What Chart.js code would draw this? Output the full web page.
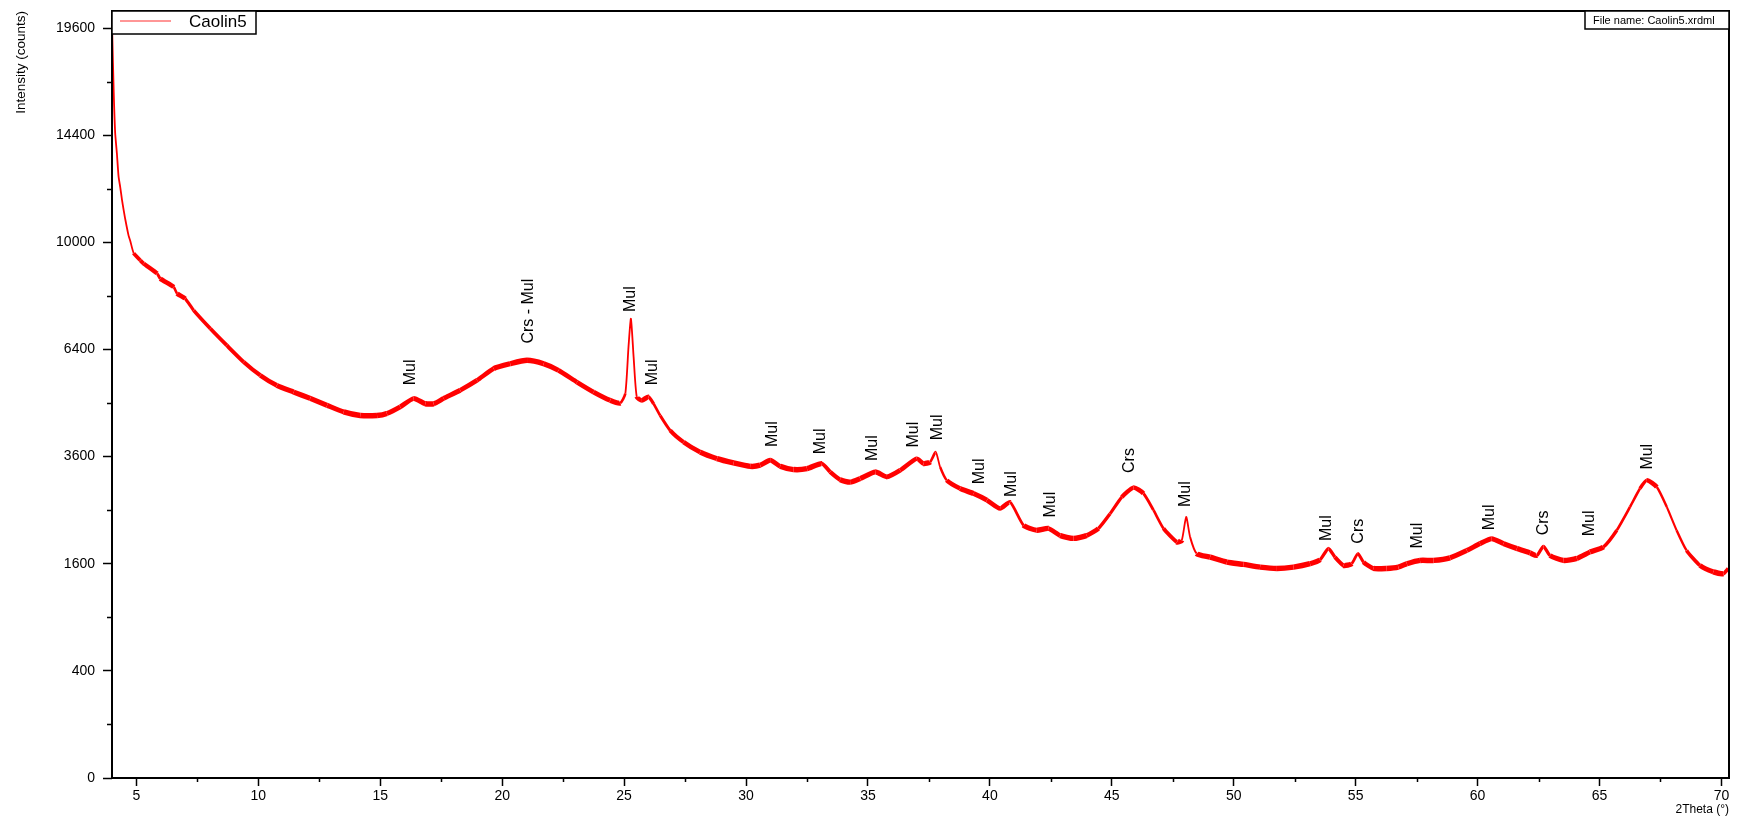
<!DOCTYPE html>
<html>
<head>
<meta charset="utf-8">
<script src="https://cdn.jsdelivr.net/npm/chart.js@4.4.1/dist/chart.umd.min.js"></script>
<style>
  html, body { margin: 0; padding: 0; background: #fff; }
  #chart { display: block; }
</style>
</head>
<body>
<canvas id="chart" width="1739" height="821"></canvas>
<script>
// *** data ***
const SAMPLE = "Caolin5";
const FILE_NAME = "File name: Caolin5.xrdml";

const TWO_THETA = [
    4.01, 4.07, 4.13, 4.20, 4.27, 4.34, 4.41, 4.48, 4.55, 4.68, 4.75, 4.89,
    5.16, 5.30, 5.85, 5.98, 6.53, 6.67, 7.00, 7.35, 8.03, 8.71, 9.40, 10.08,
    10.76, 11.45, 12.13, 12.82, 13.50, 14.18, 14.87, 15.27, 15.82, 16.37, 16.85, 17.19,
    17.60, 18.28, 18.97, 19.65, 20.33, 21.02, 21.70, 22.31, 23.07, 23.75, 24.43, 24.84,
    25.05, 25.18, 25.28, 25.39, 25.52, 25.73, 26.00, 26.21, 26.48, 26.89, 27.44, 28.12,
    28.81, 29.49, 30.17, 30.58, 30.99, 31.40, 31.95, 32.50, 33.11, 33.45, 33.86, 34.27,
    34.68, 35.30, 35.78, 36.32, 37.00, 37.28, 37.55, 37.78, 37.96, 38.23, 38.78, 39.33,
    39.88, 40.42, 40.83, 41.38, 41.92, 42.40, 42.88, 43.43, 43.97, 44.45, 44.93, 45.41,
    45.89, 46.30, 46.71, 47.12, 47.67, 47.87, 48.05, 48.21, 48.48, 49.03, 49.72, 50.40,
    51.08, 51.77, 52.45, 53.13, 53.54, 53.88, 54.15, 54.50, 54.84, 55.09, 55.32, 55.73,
    56.27, 56.75, 57.10, 57.64, 58.19, 58.87, 59.56, 60.10, 60.58, 61.06, 61.61, 62.15,
    62.43, 62.70, 62.97, 63.52, 64.07, 64.61, 65.16, 65.71, 66.25, 66.66, 66.94, 67.35,
    67.76, 68.16, 68.57, 69.12, 69.67, 70.08, 70.28
];
const COUNTS = [
    19300, 16400, 14500, 13600, 12600, 12150, 11650, 11230, 10850, 10250, 10050, 9600,
    9340, 9220, 8870, 8690, 8400, 8180, 8010, 7620, 7040, 6520, 6030, 5650,
    5370, 5190, 5020, 4840, 4670, 4580, 4580, 4630, 4800, 5020, 4880, 4880,
    5020, 5240, 5510, 5840, 5980, 6080, 5980, 5790, 5460, 5190, 4970, 4900,
    5150, 6470, 7350, 6180, 5060, 4970, 5060, 4880, 4580, 4210, 3930, 3700,
    3555, 3460, 3385, 3410, 3520, 3385, 3315, 3335, 3445, 3265, 3100, 3050,
    3125, 3265, 3160, 3300, 3555, 3445, 3480, 3700, 3370, 3090, 2920, 2820,
    2690, 2530, 2650, 2225, 2140, 2170, 2050, 2000, 2050, 2170, 2435, 2750,
    2940, 2820, 2500, 2170, 1940, 1970, 2375, 2025, 1755, 1700, 1625, 1590,
    1550, 1530, 1550, 1600, 1660, 1835, 1700, 1575, 1600, 1755, 1625, 1530,
    1530, 1550, 1600, 1650, 1650, 1690, 1805, 1915, 1995, 1915, 1835, 1765,
    1725, 1870, 1725, 1650, 1680, 1780, 1860, 2140, 2560, 2920, 3090, 2950,
    2560, 2140, 1805, 1575, 1480, 1455, 1530
];

// phase markers: position, text, intensity where the text starts
const PEAK_POS = [16.23, 21.08, 25.28, 26.18, 31.10, 33.04, 35.19, 36.87, 37.87, 39.57,
    40.90, 42.50, 45.71, 48.03, 53.81, 55.11, 57.53, 60.51, 62.70, 64.61, 66.96];
const PEAK_LABEL = ["Mul", "Crs - Mul", "Mul", "Mul", "Mul", "Mul", "Mul", "Mul", "Mul", "Mul",
    "Mul", "Mul", "Crs", "Mul", "Mul", "Crs", "Mul", "Mul", "Crs", "Mul", "Mul"];
const PEAK_BASE = [5373, 6576, 7567, 5373, 3818, 3651, 3502, 3804, 3974, 3006,
    2751, 2363, 3242, 2559, 1957, 1914, 1834, 2138, 2052, 2036, 3314];

const X_TICKS = [5, 10, 15, 20, 25, 30, 35, 40, 45, 50, 55, 60, 65, 70];
const X_MINOR = [7.5, 12.5, 17.5, 22.5, 27.5, 32.5, 37.5, 42.5, 47.5, 52.5, 57.5, 62.5, 67.5];
const Y_TICKS = [0, 400, 1600, 3600, 6400, 10000, 14400, 19600];
const Y_MINOR = [100, 900, 2500, 4900, 8100, 12100, 16900];

// *** square-root intensity axis ***
class SqrtScale extends Chart.LinearScale {
    getPixelForValue(value) {
        const lo = Math.sqrt(Math.max(this.min, 0)), hi = Math.sqrt(this.max);
        return this.getPixelForDecimal((Math.sqrt(Math.max(value, 0)) - lo) / (hi - lo));
    }
    getValueForPixel(pixel) {
        const lo = Math.sqrt(Math.max(this.min, 0)), hi = Math.sqrt(this.max);
        const s = lo + this.getDecimalForPixel(pixel) * (hi - lo);
        return s * s;
    }
}
SqrtScale.id = 'sqrt';
SqrtScale.defaults = Chart.LinearScale.defaults;
Chart.register(SqrtScale);

Chart.defaults.font.family = "'Liberation Sans', Arial, sans-serif";
Chart.defaults.color = '#000';

// *** frame, minor ticks, legend box, file name, peak labels ***
const decorPlugin = {
    id: 'decor',
    afterDraw(chart) {
        const ctx = chart.ctx, a = chart.chartArea;
        const xs = chart.scales.x, ys = chart.scales.y;
        ctx.save();
        // peak labels
        ctx.fillStyle = '#000';
        ctx.font = "16px 'Liberation Sans', Arial, sans-serif";
        ctx.textAlign = 'left';
        ctx.textBaseline = 'middle';
        PEAK_POS.forEach(function (p, i) {
            ctx.save();
            ctx.translate(xs.getPixelForValue(p), ys.getPixelForValue(PEAK_BASE[i]));
            ctx.rotate(-Math.PI / 2);
            ctx.fillText(PEAK_LABEL[i], 0, 0);
            ctx.restore();
        });
        // minor ticks
        ctx.strokeStyle = '#000';
        ctx.lineWidth = 1.5;
        ctx.beginPath();
        X_MINOR.forEach(function (v) {
            const px = Math.round(xs.getPixelForValue(v)) + 0.5;
            ctx.moveTo(px, a.bottom);
            ctx.lineTo(px, a.bottom + 4);
        });
        Y_MINOR.forEach(function (v) {
            const py = Math.round(ys.getPixelForValue(v)) + 0.5;
            ctx.moveTo(a.left - 5, py);
            ctx.lineTo(a.left, py);
        });
        ctx.stroke();
        // frame
        ctx.lineWidth = 2;
        ctx.strokeRect(a.left, a.top, a.right - a.left, a.bottom - a.top);
        // legend box
        ctx.fillStyle = '#fff';
        ctx.fillRect(a.left, a.top, 144, 23);
        ctx.lineWidth = 1.5;
        ctx.strokeRect(a.left, a.top, 144, 23);
        ctx.strokeStyle = 'rgba(255,0,0,0.55)';
        ctx.lineWidth = 1.5;
        ctx.beginPath();
        ctx.moveTo(a.left + 8, a.top + 10);
        ctx.lineTo(a.left + 59, a.top + 10);
        ctx.stroke();
        ctx.fillStyle = '#000';
        ctx.font = "17px 'Liberation Sans', Arial, sans-serif";
        ctx.textBaseline = 'middle';
        ctx.fillText(chart.data.datasets[0].label, a.left + 77, a.top + 11);
        // file name box
        ctx.fillStyle = '#fff';
        ctx.fillRect(a.right - 144, a.top, 144, 18);
        ctx.strokeStyle = '#000';
        ctx.lineWidth = 1.5;
        ctx.strokeRect(a.right - 144, a.top, 144, 18);
        ctx.fillStyle = '#000';
        ctx.font = "11px 'Liberation Sans', Arial, sans-serif";
        ctx.fillText(FILE_NAME, a.right - 136, a.top + 9.5);
        ctx.restore();
    }
};

const points = TWO_THETA.map(function (t, i) { return {x: t, y: COUNTS[i]}; });

new Chart(document.getElementById('chart').getContext('2d'), {
    type: 'line',
    data: {
        datasets: [{
            label: SAMPLE,
            data: points,
            borderColor: '#ff0000',
            borderWidth: 5,
            pointRadius: 0,
            tension: 0.2,
            segment: {
                // noisy trace: thick band where flat, thin where steep
                borderWidth: function (c) {
                    const dx = c.p1.x - c.p0.x, dy = c.p1.y - c.p0.y;
                    const cos = Math.abs(dx) / Math.sqrt(dx * dx + dy * dy);
                    return Math.max(1.8, 5.5 * cos);
                }
            }
        }]
    },
    options: {
        responsive: false,
        animation: false,
        layout: { padding: { top: 11, right: 10, left: 0, bottom: 0 } },
        plugins: { legend: { display: false }, tooltip: { enabled: false } },
        scales: {
            x: {
                type: 'linear',
                min: 4.0,
                max: 70.31,
                border: { display: false },
                grid: { drawOnChartArea: false, drawTicks: true, tickLength: 8, tickColor: '#000', tickWidth: 1.5 },
                ticks: { autoSkip: false, maxRotation: 0, padding: 2, font: { size: 14 } },
                afterBuildTicks: function (s) { s.ticks = X_TICKS.map(function (v) { return {value: v}; }); },
                afterFit: function (s) { s.height = 43; s.paddingLeft = 0; s.paddingRight = 0; },
                title: { display: true, text: '2Theta (°)', align: 'end', font: { size: 12 }, padding: { top: 0, bottom: 4 } }
            },
            y: {
                type: 'sqrt',
                min: 0,
                max: 20500,
                border: { display: false },
                grid: { drawOnChartArea: false, drawTicks: true, tickLength: 9, tickColor: '#000', tickWidth: 1.5 },
                ticks: { autoSkip: false, padding: 8, font: { size: 14 }, callback: function (v) { return String(v); } },
                afterBuildTicks: function (s) { s.ticks = Y_TICKS.map(function (v) { return {value: v}; }); },
                afterFit: function (s) { s.width = 112; s.paddingTop = 0; s.paddingBottom = 0; },
                title: { display: true, text: 'Intensity (counts)', align: 'end', font: { size: 13.5 }, padding: { top: 13, bottom: 0 } }
            }
        }
    },
    plugins: [decorPlugin]
});
</script>
</body>
</html>
